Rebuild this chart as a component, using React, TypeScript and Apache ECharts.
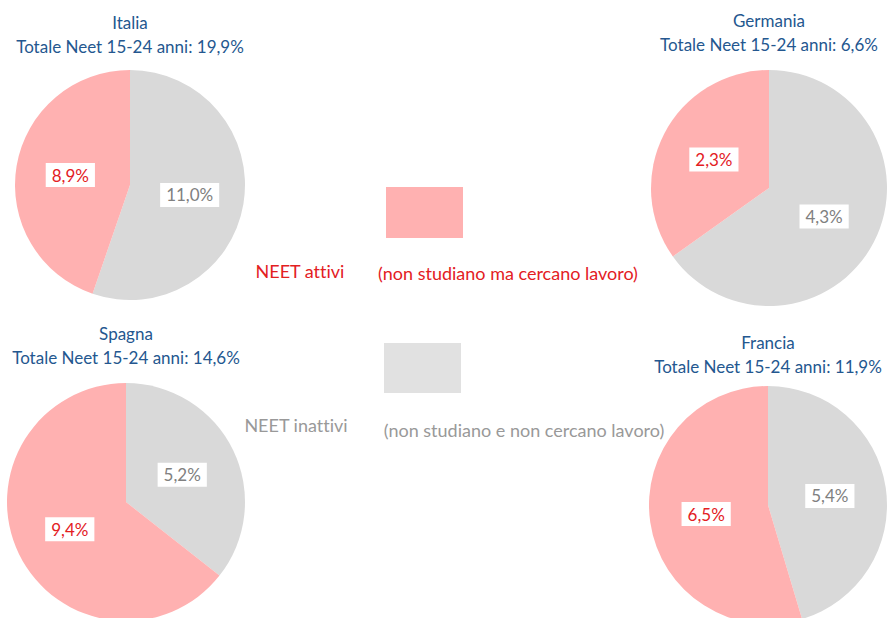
import React, { useEffect, useRef } from "react";
import * as echarts from "echarts";

const countries = ["Italia", "Germania", "Spagna", "Francia"];
const attivi = [8.9, 2.3, 9.4, 6.5];
const inattivi = [11.0, 4.3, 5.2, 5.4];
const totali = [19.9, 6.6, 14.6, 11.9];

const legendNames = ["NEET attivi", "NEET inattivi"];
const legendDescs = ["(non studiano ma cercano lavoro)", "(non studiano e non cercano lavoro)"];

const centers: [number, number][] = [
  [130, 185],
  [769, 188],
  [126, 502],
  [768, 505],
];
const radii = [115, 118, 119, 119];
const titleY = [10, 8, 321, 330];

const PINK = "#FFB1B1";
const GREY = "#D9D9D9";
const RED = "#E3201F";
const GREYTXT = "#808080";
const BLUE = "#24578F";
const FONT = "Lato, 'Noto Sans', sans-serif";

const fmt = (v: number) => v.toFixed(1).replace(".", ",") + "%";

export default function App() {
  const ref = useRef<HTMLDivElement>(null);
  useEffect(() => {
    document.body.style.margin = "0";
    const st = document.createElement("style");
    st.textContent =
      "svg text, svg tspan { font-variant-ligatures: none !important; font-feature-settings: 'liga' 0, 'clig' 0, 'dlig' 0 !important; }";
    document.head.appendChild(st);
    const chart = echarts.init(ref.current!, null, { renderer: "svg" });
    const series = countries.map((c, i) => ({
      type: "pie",
      name: c,
      center: centers[i],
      radius: radii[i],
      startAngle: 90,
      clockwise: true,
      silent: true,
      labelLine: { show: false },
      data: [
        {
          value: inattivi[i],
          name: legendNames[1],
          itemStyle: { color: GREY },
          label: { color: GREYTXT },
        },
        {
          value: attivi[i],
          name: legendNames[0],
          itemStyle: { color: PINK },
          label: { color: RED },
        },
      ],
      label: {
        show: true,
        position: "inside",
        formatter: (p: any) => fmt(p.value),
        backgroundColor: "#ffffff",
        padding: [4, 6, 3, 6],
        fontSize: 17,
        fontFamily: FONT,
      },
    }));

    const graphics: any[] = [];
    countries.forEach((c, i) => {
      graphics.push({
        type: "text",
        x: centers[i][0],
        y: titleY[i],
        style: {
          text: c + "\nTotale Neet 15-24 anni: " + fmt(totali[i]),
          fill: BLUE,
          font: "17px " + FONT,
          textAlign: "center",
          lineHeight: 24,
        },
      });
    });
    graphics.push(
      { type: "rect", shape: { x: 386, y: 187, width: 77, height: 51 }, style: { fill: PINK } },
      { type: "rect", shape: { x: 384, y: 343, width: 77, height: 50 }, style: { fill: "#E1E1E1" } },
      {
        type: "text",
        x: 300,
        y: 271,
        style: { text: legendNames[0], fill: RED, font: "18px " + FONT, textAlign: "center", textVerticalAlign: "middle" },
      },
      {
        type: "text",
        x: 508,
        y: 273,
        style: { text: legendDescs[0], fill: RED, font: "18px " + FONT, textAlign: "center", textVerticalAlign: "middle" },
      },
      {
        type: "text",
        x: 296,
        y: 425,
        style: { text: legendNames[1], fill: "#999999", font: "18px " + FONT, textAlign: "center", textVerticalAlign: "middle" },
      },
      {
        type: "text",
        x: 524,
        y: 430,
        style: { text: legendDescs[1], fill: "#999999", font: "18px " + FONT, textAlign: "center", textVerticalAlign: "middle" },
      }
    );

    chart.setOption({
      animation: false,
      backgroundColor: "#ffffff",
      series,
      graphic: graphics,
    });
    return () => {
      chart.dispose();
      st.remove();
    };
  }, []);
  return <div ref={ref} style={{ position: "absolute", left: 0, top: 0, width: 889, height: 618 }} />;
}
